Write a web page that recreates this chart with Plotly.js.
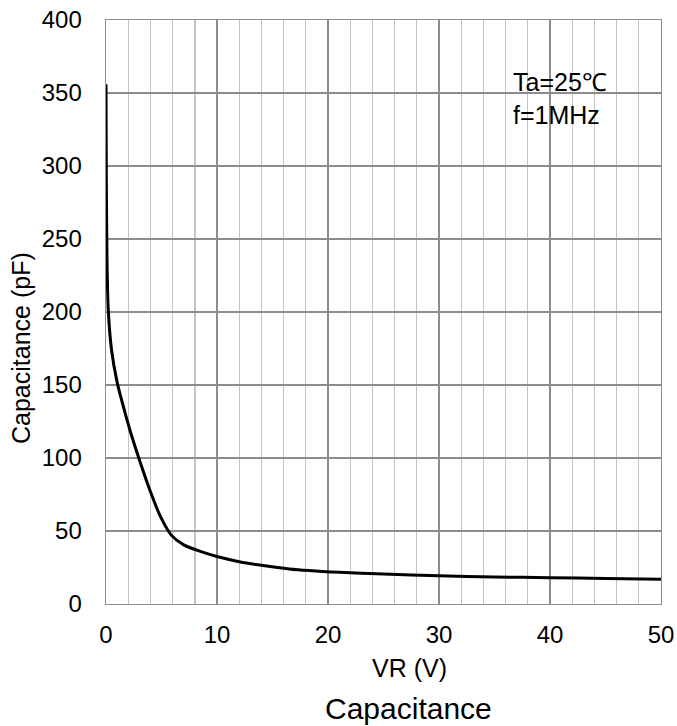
<!DOCTYPE html>
<html>
<head>
<meta charset="utf-8">
<script src="https://cdn.plot.ly/plotly-3.0.1.min.js"></script>
<style>html,body{margin:0;padding:0;background:#fff;}#chart{width:677px;height:726px;}</style>
</head>
<body>
<div id="chart"></div>
<script>
const vr = [0, 0.03, 0.09, 0.2, 0.5, 1.0, 1.5, 2.2, 3.0, 4.0, 4.9, 5.9, 7.0, 8.5, 10, 12, 14, 16.5, 21, 25, 30, 35, 40, 45, 50];
const cap = [356, 290, 236, 202, 174, 152, 137, 118, 99, 77, 60, 47, 40.5, 36, 32.5, 29, 26.5, 24, 21.7, 20.5, 19.3, 18.5, 18, 17.5, 17];
const xTicks = [0, 10, 20, 30, 40, 50];
const yTicks = [0, 50, 100, 150, 200, 250, 300, 350, 400];
const fontFam = 'Liberation Sans, Arial, sans-serif';

const data = [{
  x: vr, y: cap, type: 'scatter', mode: 'lines',
  line: {color: '#000', width: 3, shape: 'spline', smoothing: 0.6},
  hoverinfo: 'skip'
}];

const W = 677, H = 726, L = 106, R = 661, T = 20, B = 604;
const px = x => (x - L) / (R - L);
const py = y => (B - y) / (B - T);

const layout = {
  width: W, height: H,
  margin: {l: L, r: W - R, t: T, b: H - B},
  paper_bgcolor: '#fff', plot_bgcolor: '#fff',
  showlegend: false,
  font: {family: fontFam, size: 24, color: '#000'},
  xaxis: {
    range: [0, 50], tickvals: xTicks, ticktext: xTicks.map(String),
    showgrid: true, gridcolor: '#8c8c8c', gridwidth: 1.4,
    minor: {dtick: 2, showgrid: true, gridcolor: '#c4c4c4', gridwidth: 1.4},
    showline: true, linecolor: '#8c8c8c', linewidth: 1.4, mirror: true,
    zeroline: false, ticks: '', ticklabelstandoff: 9,
    tickfont: {family: fontFam, size: 24, color: '#000'}
  },
  yaxis: {
    range: [0, 400], tickvals: yTicks, ticktext: yTicks.map(String),
    showgrid: true, gridcolor: '#8c8c8c', gridwidth: 1.4,
    showline: true, linecolor: '#8c8c8c', linewidth: 1.4, mirror: true,
    zeroline: false, ticks: '', ticklabelstandoff: 18,
    tickfont: {family: fontFam, size: 24, color: '#000'}
  },
  annotations: [
    {text: 'VR (V)', xref: 'paper', yref: 'paper', x: px(409), y: py(668), xanchor: 'center', yanchor: 'middle', showarrow: false, font: {family: fontFam, size: 25, color: '#000'}},
    {text: 'Capacitance', xref: 'paper', yref: 'paper', x: px(408), y: py(708), xanchor: 'center', yanchor: 'middle', showarrow: false, font: {family: fontFam, size: 30, color: '#000'}},
    {text: 'Capacitance (pF)', xref: 'paper', yref: 'paper', x: px(21), y: py(348), xanchor: 'center', yanchor: 'middle', textangle: -90, showarrow: false, font: {family: fontFam, size: 25, color: '#000'}},
    {text: 'Ta=25℃', xref: 'paper', yref: 'paper', x: px(511), y: py(82), xanchor: 'left', yanchor: 'middle', showarrow: false, font: {family: fontFam, size: 25, color: '#000'}},
    {text: 'f=1MHz', xref: 'paper', yref: 'paper', x: px(511), y: py(115), xanchor: 'left', yanchor: 'middle', showarrow: false, font: {family: fontFam, size: 25, color: '#000'}}
  ]
};

Plotly.newPlot('chart', data, layout, {displayModeBar: false, staticPlot: true});
</script>
</body>
</html>
